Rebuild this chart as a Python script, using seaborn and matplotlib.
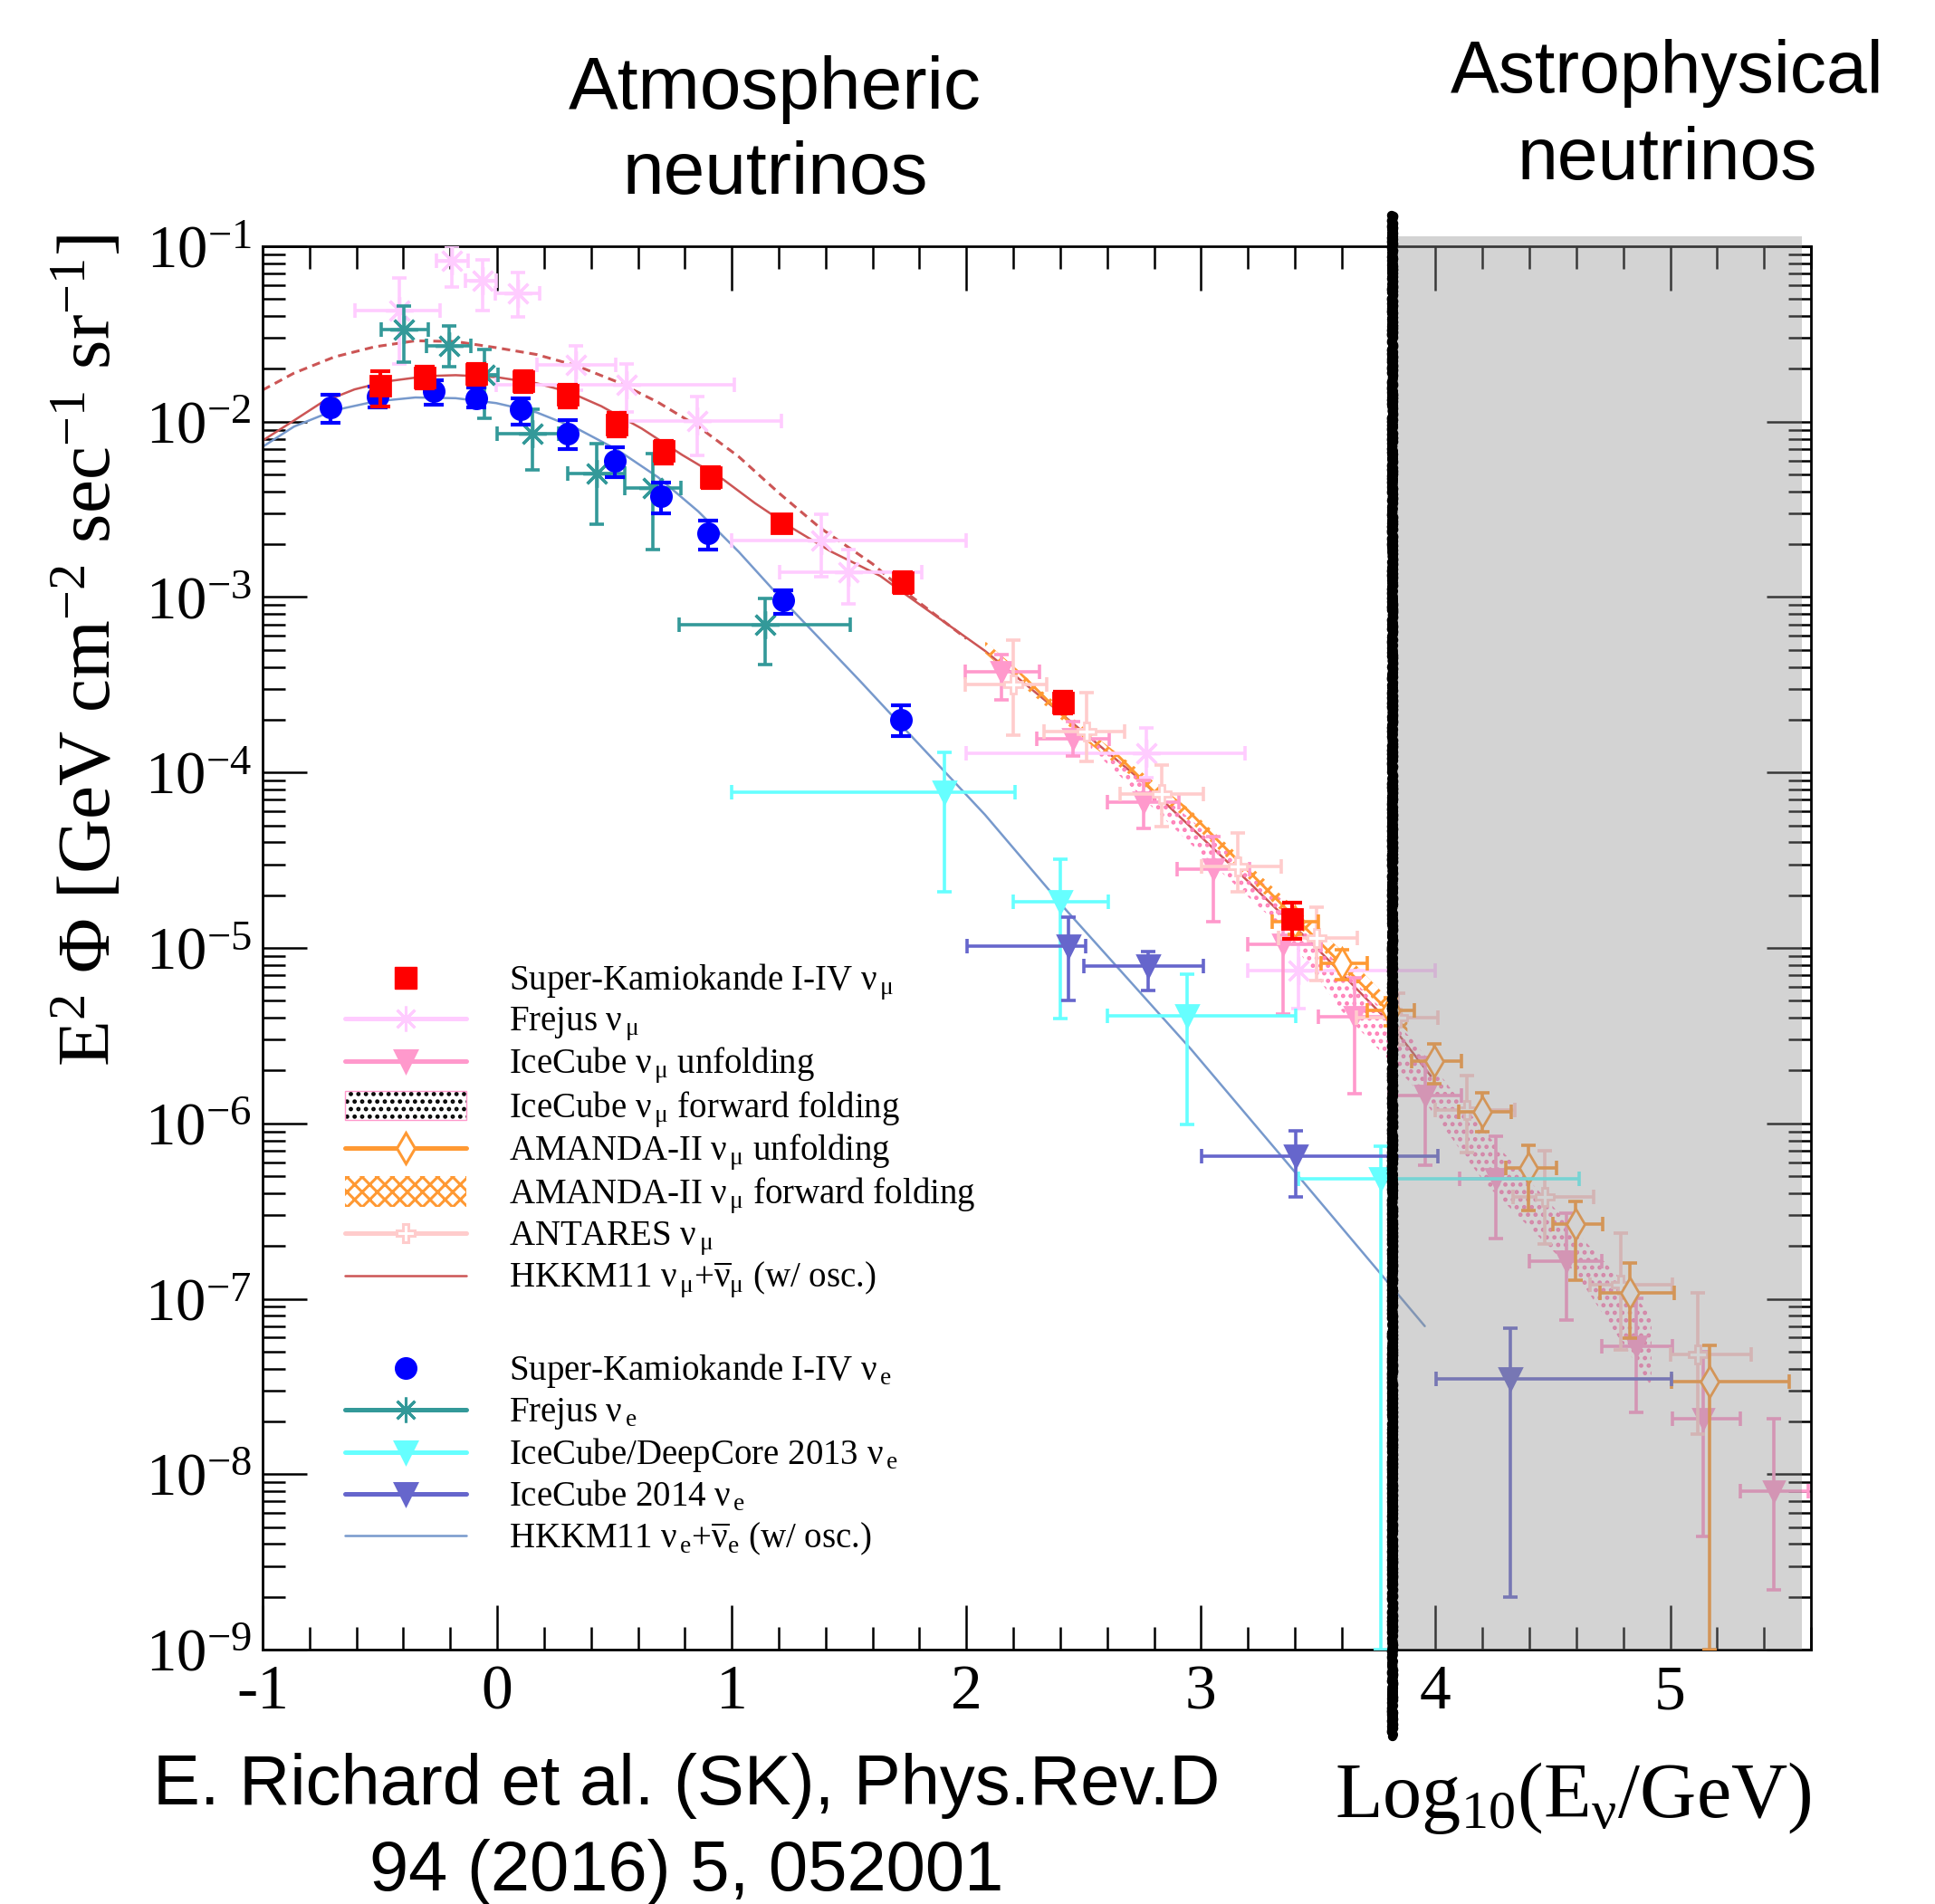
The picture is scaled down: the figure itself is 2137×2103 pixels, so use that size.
import numpy as np
import pandas as pd
import matplotlib
matplotlib.use("Agg")
import matplotlib.pyplot as plt
import seaborn as sns
from matplotlib.patches import Rectangle
from matplotlib.ticker import LogLocator, MultipleLocator, FuncFormatter, NullFormatter

# ---------------- data (log10(E/GeV), E^2 Phi) ----------------
sk_mu_x = [-0.50, -0.31, -0.09, 0.11, 0.30, 0.51, 0.71, 0.91, 1.21, 1.73, 2.41, 3.39]
sk_mu_y = [0.0160, 0.0179, 0.0187, 0.0170, 0.0142, 0.00964, 0.00682, 0.00483, 0.00263, 0.00122, 2.50e-4, 1.46e-5]
sk_mu_lo = [0.0122, 0.0155, 0.0163, 0.0148, 0.0121, 0.0082, 0.0058, 0.0042, 0.00235, 0.00105, 2.18e-4, 1.12e-5]
sk_mu_hi = [0.0194, 0.0205, 0.0213, 0.0195, 0.0163, 0.0112, 0.0078, 0.0055, 0.00292, 0.00138, 2.90e-4, 1.81e-5]

sk_e_x = [-0.71, -0.51, -0.27, -0.09, 0.10, 0.30, 0.50, 0.70, 0.90, 1.22, 1.72]
sk_e_y = [0.01205, 0.01396, 0.01496, 0.01362, 0.01172, 0.00857, 0.00598, 0.00377, 0.00230, 9.6e-4, 2.0e-4]
sk_e_lo = [0.0099, 0.0121, 0.01245, 0.0121, 0.00964, 0.00702, 0.00483, 0.0030, 0.00186, 8.05e-4, 1.62e-4]
sk_e_hi = [0.0142, 0.0158, 0.0173, 0.0156, 0.0136, 0.01016, 0.00719, 0.00451, 0.00274, 0.00109, 2.41e-4]

frejus_mu_x = [-0.418, -0.194, -0.063, 0.090, 0.337, 0.551, 0.854, 1.383, 1.498, 2.768, 3.414]
frejus_mu_xlo = [-0.608, -0.258, -0.137, -0.008, 0.168, -0.004, 0.556, 1.0, 1.202, 1.998, 3.2]
frejus_mu_xhi = [-0.242, -0.125, -0.004, 0.181, 0.507, 1.009, 1.211, 2.0, 1.811, 3.187, 4.0]
frejus_mu_y = [0.0431, 0.0827, 0.0634, 0.0541, 0.0210, 0.0162, 0.01005, 0.00210, 0.00139, 1.28e-4, 7.4e-6]
frejus_mu_lo = [0.0214, 0.0586, 0.0431, 0.0398, 0.0151, 0.0113, 0.00641, 0.00131, 9.2e-4, 9.3e-5, 4.5e-6]
frejus_mu_hi = [0.0658, 0.1000, 0.0839, 0.0705, 0.0271, 0.0214, 0.01384, 0.00295, 0.00186, 1.8e-4, 1.05e-5]

frejus_e_x = [-0.397, -0.206, -0.056, 0.151, 0.423, 0.663, 1.142]
frejus_e_xlo = [-0.496, -0.303, -0.108, -0.001, 0.299, 0.544, 0.776]
frejus_e_xhi = [-0.294, -0.111, 0.004, 0.263, 0.544, 0.785, 1.504]
frejus_e_y = [0.0336, 0.0271, 0.0184, 0.00853, 0.00507, 0.00419, 6.98e-4]
frejus_e_lo = [0.0219, 0.0205, 0.01045, 0.0053, 0.0026, 0.00186, 4.15e-4]
frejus_e_hi = [0.0454, 0.0353, 0.0257, 0.01175, 0.0075, 0.00655, 9.84e-4]

icdc_x = [1.907, 2.402, 2.941, 3.765]
icdc_xlo = [1.0, 2.200, 2.600, 3.415]
icdc_xhi = [2.209, 2.605, 3.403, 4.610]
icdc_y = [7.7e-5, 1.83e-5, 4.1e-6, 4.84e-7]
icdc_lo = [2.09e-5, 3.97e-6, 9.9e-7, 1.0e-9]
icdc_hi = [1.31e-4, 3.2e-5, 7.1e-6, 7.4e-7]

ic14_x = [2.436, 2.776, 3.403, 4.320]
ic14_xlo = [2.002, 2.502, 3.001, 4.002]
ic14_xhi = [2.507, 3.010, 4.010, 5.006]
ic14_y = [1.02e-5, 7.85e-6, 6.49e-7, 3.5e-8]
ic14_lo = [5.0e-6, 5.7e-6, 3.8e-7, 2.0e-9]
ic14_hi = [1.5e-5, 9.55e-6, 9.06e-7, 6.8e-8]

icu_x = [2.151, 2.453, 2.755, 3.053, 3.350, 3.653, 3.957, 4.256, 4.556, 4.855, 5.142, 5.442]
icu_xlo = [1.996, 2.300, 2.600, 2.898, 3.199, 3.501, 3.80, 4.102, 4.401, 4.707, 5.010, 5.30]
icu_xhi = [2.312, 2.610, 2.907, 3.208, 3.510, 3.803, 4.111, 4.393, 4.710, 5.009, 5.300, 5.59]
icu_y = [3.75e-4, 1.55e-4, 6.8e-5, 2.8e-5, 1.05e-5, 4.03e-6, 1.44e-6, 4.84e-7, 1.63e-7, 5.36e-8, 2.07e-8, 8.05e-9]
icu_lo = [2.61e-4, 1.24e-4, 4.8e-5, 1.41e-5, 4.2e-6, 1.48e-6, 5.8e-7, 2.2e-7, 7.6e-8, 2.25e-8, 4.4e-9, 2.2e-9]
icu_hi = [4.69e-4, 1.95e-4, 9.0e-5, 4.3e-5, 1.6e-5, 6.76e-6, 2.38e-6, 8.45e-7, 3.08e-7, 1.01e-7, 5.0e-8, 2.07e-8]

ant_x = [2.200, 2.513, 2.833, 3.156, 3.493, 3.84, 4.135, 4.465, 4.788, 5.117]
ant_xlo = [1.996, 2.329, 2.656, 3.001, 3.329, 3.664, 3.999, 4.329, 4.659, 5.000]
ant_xhi = [2.341, 2.674, 3.010, 3.341, 3.665, 4.010, 4.338, 4.674, 5.009, 5.345]
ant_y = [3.18e-4, 1.72e-4, 7.5e-5, 2.9e-5, 1.14e-5, 4.0e-6, 1.19e-6, 3.8e-7, 1.2e-7, 4.8e-8]
ant_lo = [1.63e-4, 1.15e-4, 4.9e-5, 2.1e-5, 6.5e-6, 2.8e-6, 6.8e-7, 2.05e-7, 5.1e-8, 1.7e-8]
ant_hi = [5.7e-4, 2.87e-4, 1.1e-4, 4.5e-5, 1.71e-5, 5.5e-6, 1.87e-6, 6.95e-7, 2.37e-7, 1.08e-7]

amu_x = [3.40, 3.60, 3.81, 3.994, 4.200, 4.395, 4.596, 4.827, 5.169]
amu_xlo = [3.305, 3.51, 3.71, 3.897, 4.099, 4.300, 4.499, 4.699, 5.006]
amu_xhi = [3.50, 3.71, 3.91, 4.112, 4.322, 4.515, 4.714, 5.017, 5.508]
amu_y = [1.41e-5, 8.2e-6, 4.4e-6, 2.27e-6, 1.16e-6, 5.6e-7, 2.67e-7, 1.08e-7, 3.37e-8]
amu_lo = [1.2e-5, 6.6e-6, 3.6e-6, 1.69e-6, 8.95e-7, 3.18e-7, 1.28e-7, 5.96e-8, 1.0e-9]
amu_hi = [1.65e-5, 9.8e-6, 5.2e-6, 2.83e-6, 1.5e-6, 7.5e-7, 3.6e-7, 1.6e-7, 5.4e-8]

amf_x = [2.08, 2.5, 2.95, 3.3, 3.6, 3.88]
amf_lo = [4.78e-4, 1.55e-4, 5.30e-5, 1.85e-5, 7.60e-6, 3.31e-6]
amf_hi = [5.60e-4, 1.81e-4, 6.21e-5, 2.26e-5, 9.66e-6, 3.98e-6]

icf_x = [2.53, 2.95, 3.34, 3.60, 3.90, 4.21, 4.60, 4.79, 4.92]
icf_lo = [1.38e-4, 3.98e-5, 1.32e-5, 4.37e-6, 1.66e-6, 4.57e-7, 1.38e-7, 5.75e-8, 3.16e-8]
icf_hi = [1.58e-4, 5.50e-5, 1.91e-5, 7.59e-6, 3.02e-6, 8.91e-7, 2.40e-7, 1.29e-7, 7.94e-8]

hkkm_mu_x = [-1.0, -0.866, -0.746, -0.608, -0.470, -0.297, -0.177, -0.004, 0.168, 0.306, 0.444, 0.616,
             0.788, 0.961, 1.099, 1.254, 1.426, 1.633, 1.752, 2.079, 2.4, 2.75, 3.2, 3.5, 3.8, 3.98]
hkkm_mu_y = [0.0078, 0.01016, 0.01291, 0.01528, 0.01698, 0.01820, 0.01841, 0.01795, 0.01656, 0.01476, 0.01225,
             0.00914, 0.00647, 0.00471, 0.00343, 0.00249, 0.00181, 0.00132, 0.00101, 4.94e-4, 2.19e-4,
             8.91e-5, 2.40e-5, 9.77e-6, 3.80e-6, 1.86e-6]

hkkm_mu_noosc_x = [-1.0, -0.866, -0.694, -0.522, -0.349, -0.177, -0.004, 0.168, 0.340, 0.513, 0.685, 0.857,
                   1.030, 1.202, 1.375, 1.599, 1.752, 2.0]
hkkm_mu_noosc_y = [0.01514, 0.01892, 0.02339, 0.02673, 0.02891, 0.02864, 0.02642, 0.02415, 0.02080, 0.01683,
                   0.01291, 0.00938, 0.00631, 0.00391, 0.00249, 0.00155, 0.00104, 5.8e-4]

hkkm_e_x = [-1.0, -0.866, -0.694, -0.522, -0.349, -0.177, -0.004, 0.168, 0.340, 0.513, 0.685, 0.857,
            1.030, 1.202, 1.375, 1.547, 1.700, 2.079, 2.424, 2.958, 3.424, 3.954]
hkkm_e_y = [0.00719, 0.00938, 0.01161, 0.01303, 0.01374, 0.01361, 0.01276, 0.01130, 0.00914, 0.00690,
            0.00483, 0.00308, 0.00181, 0.00101, 5.79e-4, 3.32e-4, 2.0e-4, 5.75e-5, 1.65e-5, 2.64e-6,
            4.84e-7, 6.98e-8]

legend_labels = [
    r"Super-Kamiokande I-IV $\mathrm{\nu_{\,\mu}}$",
    r"Frejus $\mathrm{\nu_{\,\mu}}$",
    r"IceCube $\mathrm{\nu_{\,\mu}}$ unfolding",
    r"IceCube $\mathrm{\nu_{\,\mu}}$ forward folding",
    r"AMANDA-II $\mathrm{\nu_{\,\mu}}$ unfolding",
    r"AMANDA-II $\mathrm{\nu_{\,\mu}}$ forward folding",
    r"ANTARES $\mathrm{\nu_{\,\mu}}$",
    r"HKKM11 $\mathrm{\nu_{\,\mu}}$+$\mathrm{\overline{\nu}_{\mu}}$ (w/ osc.)",
    r"Super-Kamiokande I-IV $\mathrm{\nu_{\,e}}$",
    r"Frejus $\mathrm{\nu_{\,e}}$",
    r"IceCube/DeepCore 2013 $\mathrm{\nu_{\,e}}$",
    r"IceCube 2014 $\mathrm{\nu_{\,e}}$",
    r"HKKM11 $\mathrm{\nu_{\,e}}$+$\mathrm{\overline{\nu}_{e}}$ (w/ osc.)",
]

x_tick_vals = [-1, 0, 1, 2, 3, 4, 5]
x_tick_labels = ["-1", "0", "1", "2", "3", "4", "5"]

# ---------------- colours ----------------
C_SKMU = "#ff0000"
C_SKE = "#0000ff"
C_FRMU = "#ffccff"
C_FRE = "#339999"
C_ICU = "#ff99cc"
C_ICF = "#ff80b8"
C_AM = "#ff9933"
C_ANT = "#ffcccc"
C_ICDC = "#66ffff"
C_IC14 = "#6666cc"
C_HMU = "#cc5555"
C_HE = "#7799cc"

# ---------------- style ----------------
sns.set_theme(style="ticks")
plt.rcParams["font.family"] = ["Liberation Serif", "DejaVu Serif"]
plt.rcParams["mathtext.fontset"] = "custom"
plt.rcParams["mathtext.rm"] = "Liberation Serif"
plt.rcParams["mathtext.it"] = "Liberation Serif:italic"
plt.rcParams["mathtext.bf"] = "Liberation Serif:bold"
plt.rcParams["hatch.linewidth"] = 2.2
plt.rcParams["axes.linewidth"] = 2.0
for key in ["text.color", "axes.labelcolor", "xtick.color", "ytick.color", "axes.edgecolor"]:
    plt.rcParams[key] = "black"

W, H = 2137, 2103
fig = plt.figure(figsize=(W / 100, H / 100), dpi=100)
AX_L, AX_R, AX_T, AX_B = 290, 2000, 272, 1822
ax = fig.add_axes([AX_L / W, 1 - AX_B / H, (AX_R - AX_L) / W, (AX_B - AX_T) / H])
ax.set_facecolor("white")
ax.set_yscale("log")
ax.set_xlim(-1, 5.6)
ax.set_ylim(1e-9, 1e-1)

# ---------------- model curves ----------------
df_mu = pd.DataFrame({"x": hkkm_mu_x, "y": hkkm_mu_y})
df_mu_no = pd.DataFrame({"x": hkkm_mu_noosc_x, "y": hkkm_mu_noosc_y})
df_e = pd.DataFrame({"x": hkkm_e_x, "y": hkkm_e_y})
sns.lineplot(data=df_mu_no, x="x", y="y", ax=ax, color=C_HMU, lw=2.2, linestyle=(0, (3, 2)),
             estimator=None, sort=False, zorder=2)
sns.lineplot(data=df_mu, x="x", y="y", ax=ax, color=C_HMU, lw=1.8, estimator=None, sort=False, zorder=2)
sns.lineplot(data=df_e, x="x", y="y", ax=ax, color=C_HE, lw=1.8, estimator=None, sort=False, zorder=2)

# ---------------- bands ----------------
ax.fill_between(icf_x, icf_lo, icf_hi, facecolor="none", edgecolor=C_ICF, hatch="..", lw=0, zorder=2.2)
ax.fill_between(amf_x, amf_lo, amf_hi, facecolor="none", edgecolor=C_AM, hatch="xx", lw=0, zorder=2.3)


def ebar(x, y, lo, hi, color, marker, ms, xlo=None, xhi=None, mfc=None, mew=2.0, z=3,
         cap=5.8, elw=2.6):
    x = np.asarray(x, float)
    y = np.asarray(y, float)
    yerr = [y - np.asarray(lo), np.asarray(hi) - y]
    xerr = None
    if xlo is not None:
        xerr = [x - np.asarray(xlo), np.asarray(xhi) - x]
    ax.errorbar(x, y, yerr=yerr, xerr=xerr, fmt="none", ecolor=color,
                elinewidth=elw, capsize=cap, capthick=elw, zorder=z)
    ax.plot(x, y, ls="none", marker=marker, ms=ms, color=color,
            mfc=mfc if mfc is not None else color, mec=color, mew=mew, zorder=z + 0.05)


ASTER = (8, 2, 0)
ebar(frejus_mu_x, frejus_mu_y, frejus_mu_lo, frejus_mu_hi, C_FRMU, ASTER, 22,
     frejus_mu_xlo, frejus_mu_xhi, mew=2.4, z=3)
ebar(icu_x, icu_y, icu_lo, icu_hi, C_ICU, "v", 16, icu_xlo, icu_xhi, z=3.2)
ebar(ant_x, ant_y, ant_lo, ant_hi, C_ANT, "P", 15, ant_xlo, ant_xhi, mfc="white", z=3.3)
ebar(amu_x, amu_y, amu_lo, amu_hi, C_AM, "d", 17, amu_xlo, amu_xhi, mfc="white", z=3.4)
ebar(icdc_x, icdc_y, icdc_lo, icdc_hi, C_ICDC, "v", 17, icdc_xlo, icdc_xhi, z=3.5)
ebar(ic14_x, ic14_y, ic14_lo, ic14_hi, C_IC14, "v", 17, ic14_xlo, ic14_xhi, z=3.6)
ebar(frejus_e_x, frejus_e_y, frejus_e_lo, frejus_e_hi, C_FRE, ASTER, 22,
     frejus_e_xlo, frejus_e_xhi, mew=2.4, z=3.7)
ebar(sk_e_x, sk_e_y, sk_e_lo, sk_e_hi, C_SKE, "o", 16, z=4, cap=8, elw=3.0)
ebar(sk_mu_x, sk_mu_y, sk_mu_lo, sk_mu_hi, C_SKMU, "s", 16, z=4.2, cap=8, elw=3.0)

# ---------------- astrophysical region ----------------
ax.axvspan(3.815, 5.56, ymin=0, ymax=1.007, facecolor=(145 / 255, 145 / 255, 145 / 255),
           alpha=0.4, lw=0, zorder=10, clip_on=False)
vline = ax.axvline(3.815, ymin=-0.062, ymax=1.022, color="black", lw=7.5, zorder=11, clip_on=False)
vline.set_sketch_params(scale=1.2, length=6, randomness=3)

# ---------------- axes styling ----------------
ax.set_xticks(x_tick_vals)
ax.set_xticklabels(x_tick_labels)
ax.xaxis.set_minor_locator(MultipleLocator(0.2))
ax.yaxis.set_major_locator(LogLocator(base=10, numticks=20))
ax.yaxis.set_minor_locator(LogLocator(base=10, subs=np.arange(2, 10) * 1.0, numticks=200))
ax.yaxis.set_major_formatter(FuncFormatter(lambda v, p: r"$10^{%d}$" % int(round(np.log10(v)))))
ax.yaxis.set_minor_formatter(NullFormatter())
ax.tick_params(axis="both", which="major", direction="in", length=35, width=1.8, color="black",
               top=True, right=True, pad=9)
ax.tick_params(axis="both", which="minor", direction="in", length=18, width=1.8, color="black",
               top=True, right=True)
ax.tick_params(axis="y", which="major", labelsize=48, pad=9, labelcolor="black")
ax.tick_params(axis="x", which="major", labelsize=50, pad=12, labelcolor="black")
for sp in ax.spines.values():
    sp.set_linewidth(2.0)
    sp.set_color("black")

ax.set_ylabel(r"E$^{2}$ Φ [GeV cm$^{-2}$ sec$^{-1}$ sr$^{-1}$]", fontsize=60, va="center",
              color="black")
ax.yaxis.set_label_coords((100 - AX_L) / (AX_R - AX_L), (AX_B - 718) / (AX_B - AX_T))
ax.set_xlabel(r"Log$_{10}$(E$_{\mathrm{\nu}}$/GeV)", fontsize=62, ha="right", va="baseline",
              color="black")
ax.xaxis.set_label_coords(1.0, (AX_B - 2007) / (AX_B - AX_T))

# ---------------- manual legend ----------------
def axx(px):
    return (px - AX_L) / (AX_R - AX_L)


def axy(py):
    return (AX_B - py) / (AX_B - AX_T)


row_y = [1080, 1125, 1172, 1221, 1268, 1316, 1362, 1409, 1511, 1557, 1604, 1650, 1696]
hx0, hx1, hxm, tx = axx(381), axx(515), axx(448), axx(562)
kind = ["marker", "lm", "lm", "dots", "lm", "cross", "lm", "line",
        "marker", "lm", "lm", "lm", "line"]
spec = [
    dict(color=C_SKMU, marker="s", ms=17),
    dict(color=C_FRMU, marker=ASTER, ms=20),
    dict(color=C_ICU, marker="v", ms=17),
    None,
    dict(color=C_AM, marker="d", ms=17, mfc="white"),
    None,
    dict(color=C_ANT, marker="P", ms=15, mfc="white"),
    dict(color=C_HMU),
    dict(color=C_SKE, marker="o", ms=17),
    dict(color=C_FRE, marker=ASTER, ms=20),
    dict(color=C_ICDC, marker="v", ms=17),
    dict(color=C_IC14, marker="v", ms=17),
    dict(color=C_HE),
]
for k, s, py, lab in zip(kind, spec, row_y, legend_labels):
    yy = axy(py)
    if k == "marker":
        ax.plot([hxm], [yy], transform=ax.transAxes, ls="none", marker=s["marker"], ms=s["ms"],
                color=s["color"], clip_on=False, zorder=20)
    elif k == "lm":
        ax.plot([hx0, hx1], [yy, yy], transform=ax.transAxes, color=s["color"], lw=3.6,
                clip_on=False, zorder=20)
        ax.plot([hxm], [yy], transform=ax.transAxes, ls="none", marker=s["marker"], ms=s["ms"],
                color=s["color"], mfc=s.get("mfc", s["color"]), mec=s["color"], mew=2.2,
                clip_on=False, zorder=21)
    elif k == "line":
        ax.plot([hx0, hx1], [yy, yy], transform=ax.transAxes, color=s["color"], lw=1.8,
                clip_on=False, zorder=20)
    elif k == "dots":
        hh = 32 / (AX_B - AX_T)
        ax.add_patch(Rectangle((hx0, yy - hh / 2), hx1 - hx0, hh, transform=ax.transAxes,
                               facecolor="white", edgecolor="black", hatch="..", lw=0, zorder=20))
        ax.add_patch(Rectangle((hx0, yy - hh / 2), hx1 - hx0, hh, transform=ax.transAxes,
                               fill=False, edgecolor=C_ICU, lw=1.0, zorder=21))
    elif k == "cross":
        hh = 34 / (AX_B - AX_T)
        ax.add_patch(Rectangle((hx0, yy - hh / 2), hx1 - hx0, hh, transform=ax.transAxes,
                               facecolor="white", edgecolor=C_AM, hatch="xx", lw=0, zorder=20))
    ax.text(tx, axy(py + 13), lab, transform=ax.transAxes, fontsize=28, va="baseline",
            ha="left", color="black", zorder=22)

# ---------------- annotations ----------------
sans = ["Liberation Sans", "DejaVu Sans"]
fig.text(856 / W, 1 - 120 / H, "Atmospheric", family=sans, fontsize=59, ha="center", va="baseline",
         color="black")
fig.text(856 / W, 1 - 214 / H, "neutrinos", family=sans, fontsize=59, ha="center", va="baseline",
         color="black")
fig.text(1841 / W, 1 - 102 / H, "Astrophysical", family=sans, fontsize=58, ha="center", va="baseline",
         color="black")
fig.text(1841 / W, 1 - 198 / H, "neutrinos", family=sans, fontsize=58, ha="center", va="baseline",
         color="black")
fig.text(758 / W, 1 - 1993 / H, "E. Richard et al. (SK), Phys.Rev.D", family=sans, fontsize=56,
         ha="center", va="baseline", color="black")
fig.text(758 / W, 1 - 2088 / H, "94 (2016) 5, 052001", family=sans, fontsize=56,
         ha="center", va="baseline", color="black")

fig.savefig("out.png", dpi=100, facecolor="white")
